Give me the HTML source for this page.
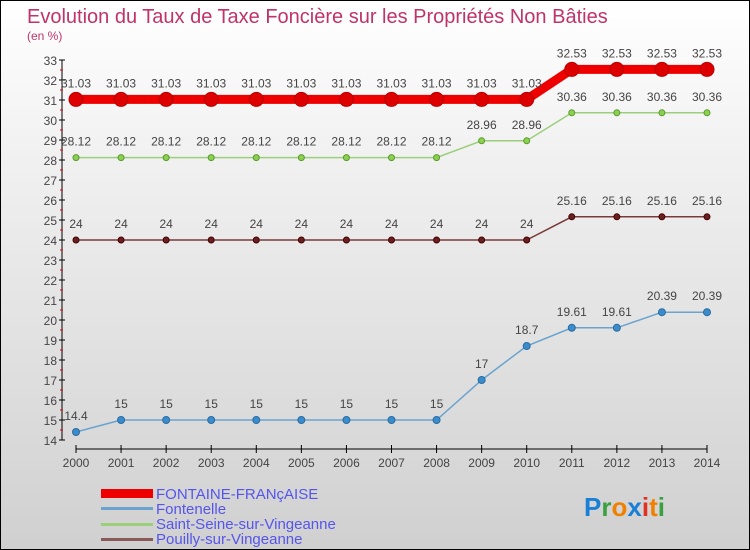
<!DOCTYPE html>
<html><head><meta charset="utf-8"><style>
body{margin:0}
#c{width:750px;height:550px;position:relative;box-sizing:border-box;border:1px solid #000;background:linear-gradient(#ffffff,#f0f0f0 30%,#d0d0d0);font-family:"Liberation Sans",sans-serif;overflow:hidden}
svg text{font-family:"Liberation Sans",sans-serif}
</style></head><body>
<div id="c">
<svg id="s" width="750" height="550">
<text x="26" y="22" font-size="20" fill="#c0336a">Evolution du Taux de Taxe Foncière sur les Propriétés Non Bâties</text>
<text x="26" y="39" font-size="12" fill="#c0336a">(en %)</text>
<g id="axes"></g><g id="series"></g>
<g>
<rect x="100" y="488" width="52" height="9" fill="#e00"/>
<text x="155" y="498" font-size="15" fill="#5555ee">FONTAINE-FRANçAISE</text>
<rect x="100" y="506" width="52" height="3" fill="#6aa3cf"/>
<text x="155" y="513" font-size="15" fill="#5555ee">Fontenelle</text>
<rect x="100" y="522" width="52" height="3" fill="#9ccf7a"/>
<text x="155" y="528" font-size="15" fill="#5555ee">Saint-Seine-sur-Vingeanne</text>
<rect x="100" y="537" width="52" height="3" fill="#8a5a5a"/>
<text x="155" y="543" font-size="15" fill="#5555ee">Pouilly-sur-Vingeanne</text>
</g>
<text x="583" y="515" font-size="26" font-weight="bold"><tspan fill="#1a7fd6">P</tspan><tspan fill="#3aa040">r</tspan><tspan fill="#f08000">o</tspan><tspan fill="#1a7fd6">x</tspan><tspan fill="#e03020">i</tspan><tspan fill="#f08000">t</tspan><tspan fill="#3aa040">i</tspan></text>
</svg></div>
<script>
const years=[2000,2001,2002,2003,2004,2005,2006,2007,2008,2009,2010,2011,2012,2013,2014];
const fontaine=[31.03,31.03,31.03,31.03,31.03,31.03,31.03,31.03,31.03,31.03,31.03,32.53,32.53,32.53,32.53];
const fontenelle=[14.4,15,15,15,15,15,15,15,15,17,18.7,19.61,19.61,20.39,20.39];
const saintSeine=[28.12,28.12,28.12,28.12,28.12,28.12,28.12,28.12,28.12,28.96,28.96,30.36,30.36,30.36,30.36];
const pouilly=[24,24,24,24,24,24,24,24,24,24,24,25.16,25.16,25.16,25.16];
const yTicks=[14,15,16,17,18,19,20,21,22,23,24,25,26,27,28,29,30,31,32,33];
const NS="http://www.w3.org/2000/svg";
const X=i=>75+i*(706-75)/(years.length-1);
const Y=v=>439-(v-14)*20;
function mk(t,a,p){const e=document.createElementNS(NS,t);for(const k in a)e.setAttribute(k,a[k]);p.appendChild(e);return e;}
const ax=document.getElementById('axes');
let e=mk('line',{x1:61,y1:Y(33),x2:61,y2:Y(14),stroke:'#000'},ax);


e=mk('line',{x1:75,y1:448,x2:706,y2:448,stroke:'#000'},ax);


yTicks.forEach(v=>{
 mk('line',{x1:58,y1:Y(v),x2:64,y2:Y(v),stroke:'#000'},ax);
 if(v<33)mk('line',{x1:59,y1:Y(v+0.5),x2:62,y2:Y(v+0.5),stroke:'#e00'},ax);
 const t=mk('text',{x:56,y:Y(v)+5,'font-size':12,fill:'#444','text-anchor':'end'},ax);t.textContent=v;
 
 
});
years.forEach((y,i)=>{
 mk('line',{x1:X(i),y1:444,x2:X(i),y2:452,stroke:'#000'},ax);
 const t=mk('text',{x:X(i),y:466,'font-size':12,fill:'#444','text-anchor':'middle'},ax);t.textContent=y;
 
 
});
const sg=document.getElementById('series');
function draw(vals,name,color,dot,w,r,dotStroke){
 const g=mk('g',{},sg);
 
 
 const l=mk('polyline',{points:vals.map((v,i)=>X(i)+','+Y(v)).join(' '),fill:'none',stroke:color,'stroke-width':w},g);
 
 
 vals.forEach((v,i)=>{
  const c=mk('circle',{cx:X(i),cy:Y(v),r:r,fill:dot,stroke:dotStroke,'stroke-width':1},g);
  
  
  const t=mk('text',{x:X(i),y:Y(v)-12,'font-size':12,fill:'#444','text-anchor':'middle'},g);
  t.textContent=v;
  
  
 });
}
draw(fontenelle,'fontenelle','#6aa3cf','#3a8ccc',1.5,3.5,'#2a6ca0');
draw(pouilly,'pouilly','#7a3a3a','#6a2020',1.5,3,'#400');
draw(saintSeine,'saint-seine','#9ccf7a','#8cd050',1.5,3,'#5a9a30');
draw(fontaine,'fontaine','#ee0000','#dd0000',9,7,'#b00');
</script>
</body></html>
